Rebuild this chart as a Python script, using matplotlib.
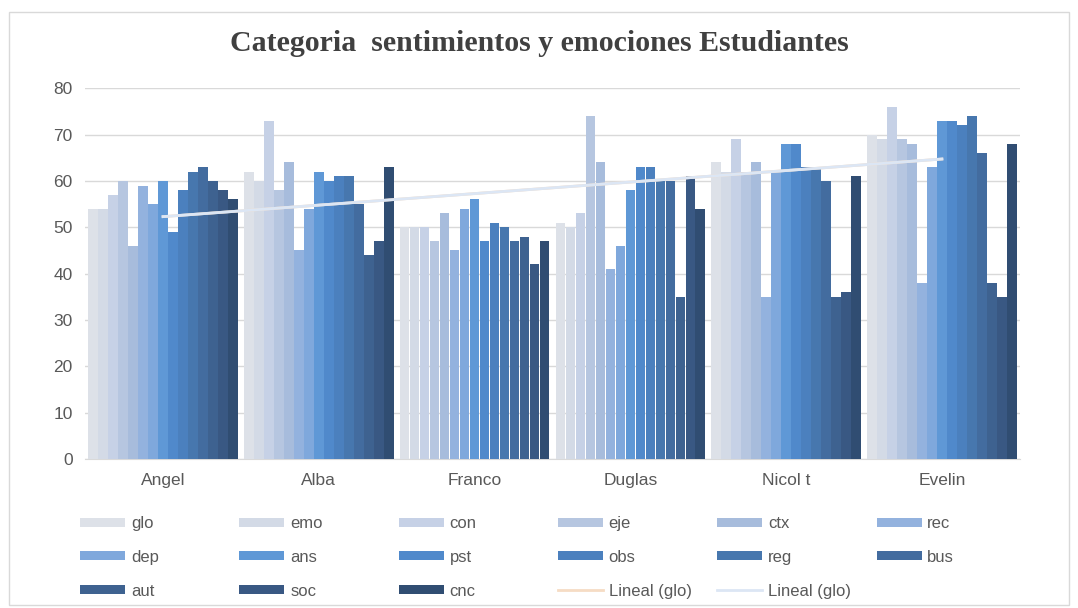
import numpy as np
import matplotlib
matplotlib.use("Agg")
from matplotlib import pyplot as plt
from matplotlib.patches import Rectangle

# data
students = ["Angel", "Alba", "Franco", "Duglas", "Nicol t", "Evelin"]
series = ["glo", "emo", "con", "eje", "ctx", "rec", "dep", "ans",
          "pst", "obs", "reg", "bus", "aut", "soc", "cnc"]
# one row per series, one value per student
glo = [54, 62, 50, 51, 64, 70]
emo = [54, 60, 50, 50, 62, 69]
con = [57, 73, 50, 53, 69, 76]
eje = [60, 58, 47, 74, 62, 69]
ctx = [46, 64, 53, 64, 64, 68]
rec = [59, 45, 45, 41, 35, 38]
dep = [55, 54, 54, 46, 62, 63]
ans = [60, 62, 56, 58, 68, 73]
pst = [49, 60, 47, 63, 68, 73]
obs = [58, 61, 51, 63, 63, 72]
reg = [62, 61, 50, 60, 63, 74]
bus = [63, 55, 47, 60, 60, 66]
aut = [60, 44, 48, 35, 35, 38]
soc = [58, 47, 42, 61, 36, 35]
cnc = [56, 63, 47, 54, 61, 68]
values = [glo, emo, con, eje, ctx, rec, dep, ans, pst, obs, reg, bus, aut, soc, cnc]

colors = ["#dde1e8", "#d3dae6", "#c6d1e6", "#b6c6e0", "#a7bcdc", "#93b2de",
          "#7fa8dc", "#5f98d6", "#5089cb", "#4b80be", "#4777ae", "#436c9f",
          "#3e6290", "#395883", "#304d72"]

plt.rcParams['font.family'] = ['Liberation Sans', 'DejaVu Sans']

fig = plt.figure(figsize=(10.78, 6.08), dpi=100)
ax = fig.add_axes([0.079, 0.245, 0.867, 0.61])

x = np.arange(len(students))
n = len(series)
w = 0.962 / n
handles = []
for i in range(n):
    pos = x - 0.481 + w * (i + 0.5)
    b = ax.bar(pos, values[i], width=w * 0.96, color=colors[i], zorder=3,
               label=series[i])
    handles.append(b)

# linear trendline for glo (shown twice in the legend)
k, c = np.polyfit(x, glo, 1)
tl1, = ax.plot(x, k * x + c, color="#f6dcc4", lw=2, zorder=4, label="Lineal (glo)")
tl2, = ax.plot(x, k * x + c, color="#dce6f4", lw=2, zorder=5, label="Lineal (glo)")

ax.set_xlim(-0.5, 5.5)
ax.set_ylim(0, 80)
ax.set_yticks(range(0, 81, 10))
ax.set_xticks(x)
ax.set_xticklabels(students)
ax.tick_params(axis="both", length=0, labelsize=12.5, colors="#595959")
ax.tick_params(axis="x", pad=10)
ax.tick_params(axis="y", pad=9)
ax.yaxis.grid(True, color="#d9d9d9", lw=1, zorder=0)
for s in ["top", "right", "left"]:
    ax.spines[s].set_visible(False)
ax.spines["bottom"].set_color("#d9d9d9")

fig.text(0.5, 0.928, "Categoria  sentimientos y emociones Estudiantes",
         ha="center", va="center", fontsize=21.5, fontweight="bold",
         family="Liberation Serif", color="#404040")

# legend: 6 evenly spaced columns, filled row by row
allh = handles + [tl1, tl2]
alll = series + ["Lineal (glo)", "Lineal (glo)"]
for col in range(6):
    idx = [j for j in range(col, len(allh), 6)]
    leg = fig.legend([allh[j] for j in idx], [alll[j] for j in idx],
                     loc="upper left", bbox_to_anchor=((80 + 159.3 * col) / 1078, 0.151),
                     ncol=1, frameon=False, fontsize=12, handlelength=2.7,
                     handleheight=0.45, labelspacing=1.12, borderpad=0,
                     borderaxespad=0, handletextpad=0.35)
    for t in leg.get_texts():
        t.set_color("#595959")

fig.patches.append(Rectangle((0.008, 0.005), 0.984, 0.975, transform=fig.transFigure,
                             fill=False, edgecolor="#d9d9d9", lw=1))

fig.savefig("out.png", dpi=100)
